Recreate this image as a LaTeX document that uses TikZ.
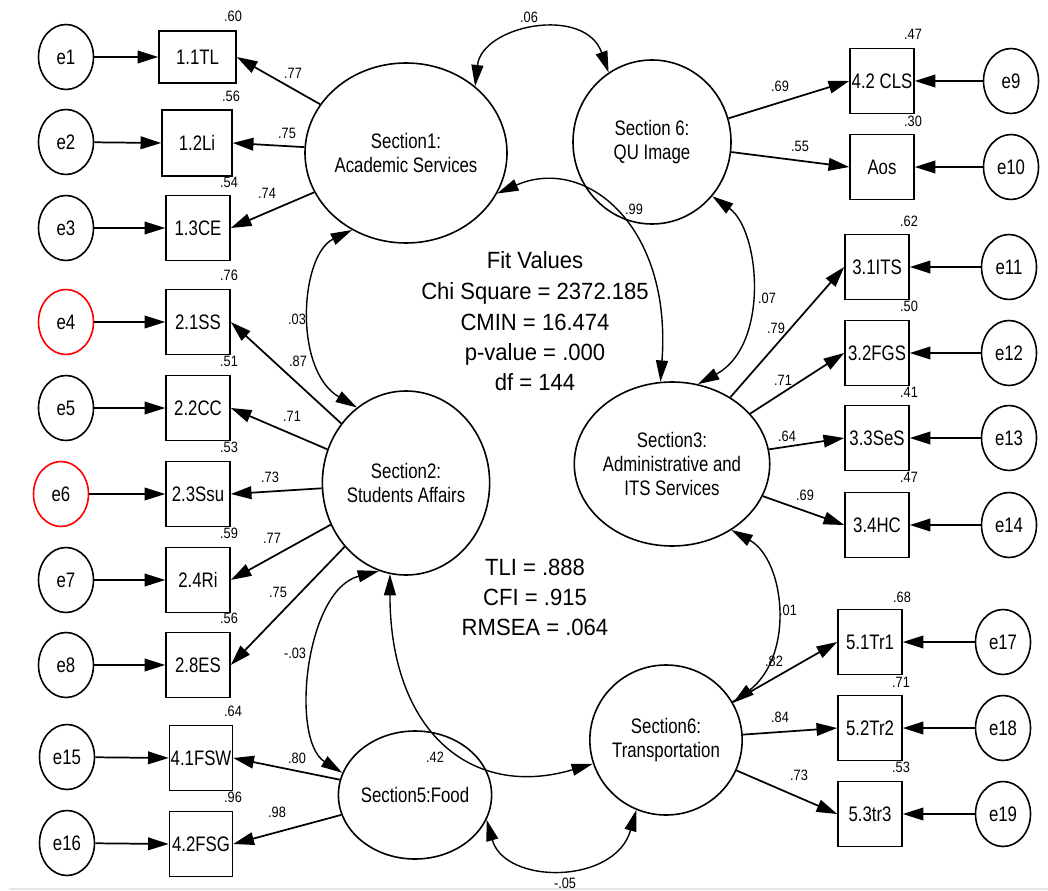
\documentclass[tikz,border=0pt]{standalone}
\usepackage{fontspec}
\setmainfont{Liberation Sans}
\newfontfamily\nodefont[FakeStretch=0.8]{Liberation Sans}
\newfontfamily\smallfont[FakeStretch=0.85]{Liberation Sans}
\newfontfamily\fitfont[FakeStretch=0.94]{Liberation Sans}
\usetikzlibrary{shapes.geometric,arrows.meta}
\begin{document}
\begin{tikzpicture}[x=0.75pt,y=-0.75pt,
  nf/.style={font=\nodefont\fontsize{15.75pt}{18pt}\selectfont},
  errc/.style={nf,ellipse,draw,line width=1.2pt,minimum width=41.25pt,minimum height=48.75pt,inner sep=0pt},
  errred/.style={errc,draw=red},
  obs/.style={nf,rectangle,draw,line width=1.2pt,minimum width=48pt,minimum height=48.75pt,inner sep=0pt},
  lat/.style={nf,ellipse,draw,line width=1.2pt,inner sep=0pt,align=center},
  num/.style={font=\smallfont\fontsize{11.25pt}{13pt}\selectfont,inner sep=0pt},
  fitline/.style={font=\fitfont\fontsize{17.6pt}{22pt}\selectfont,inner sep=0pt,anchor=base},
  load/.style={line width=1.3pt,-{Triangle[length=15.5pt,width=9.5pt]}},
  cov/.style={line width=1.05pt,{Triangle[length=16pt,width=9pt]}-{Triangle[length=16pt,width=9pt]}}
]
\useasboundingbox (0,0) rectangle (1048,891);
\draw[gray!20,line width=1pt] (9,889) -- (1048,889);

% latent variables
\node[lat,minimum width=127.5pt,minimum height=135pt] (s1) at (406,153) {Section1:\\Academic Services};
\node[lat,minimum width=115.5pt,minimum height=138pt] (s2) at (406,483) {Section2:\\Students Affairs};
\node[lat,minimum width=114pt,minimum height=96pt] (s5) at (415,795) {Section5:Food};
\node[lat,minimum width=111pt,minimum height=112.5pt] (st) at (666,740) {Section6:\\Transportation};
\node[lat,minimum width=118.5pt,minimum height=123pt] (s6) at (652,142) {Section 6:\\QU Image};
\node[lat,minimum width=118.5pt,minimum height=123pt] (s3) at (672,464) {Section3:\\Administrative and\\ITS Services};

% observed variables, left
\node[obs,minimum width=57.75pt,minimum height=39pt] (b11) at (197.5,57) {1.1TL};
\node[obs,minimum width=52.5pt,minimum height=49.5pt] (b12) at (197,143) {1.2Li};
\node[obs] (b13) at (198,228) {1.3CE};
\node[obs] (b21) at (198,322) {2.1SS};
\node[obs] (b22) at (198,408) {2.2CC};
\node[obs] (b23) at (198,494) {2.3Ssu};
\node[obs] (b24) at (198,580) {2.4Ri};
\node[obs] (b28) at (198,665) {2.8ES};
\node[obs,minimum width=47.25pt] (b41) at (201,758) {4.1FSW};
\node[obs,minimum width=47.25pt] (b42) at (201,844) {4.2FSG};
% observed variables, right
\node[obs] (cls) at (882,81) {4.2 CLS};
\node[obs] (aos) at (882,167) {Aos};
\node[obs] (b31) at (877,267) {3.1ITS};
\node[obs] (b32) at (877,353) {3.2FGS};
\node[obs] (b33) at (877,438) {3.3SeS};
\node[obs] (b34) at (877,525) {3.4HC};
\node[obs] (t1) at (870,642) {5.1Tr1};
\node[obs] (t2) at (870,728) {5.2Tr2};
\node[obs] (t3) at (870,814) {5.3tr3};

% error terms
\node[errc] (e1) at (66,57) {e1};
\node[errc] (e2) at (66,142) {e2};
\node[errc] (e3) at (66,228) {e3};
\node[errred] (e4) at (66,322) {e4};
\node[errc] (e5) at (66,408) {e5};
\node[errred] (e6) at (61,494) {e6};
\node[errc] (e7) at (66,580) {e7};
\node[errc] (e8) at (66,665) {e8};
\node[errc] (e15) at (67,757) {e15};
\node[errc] (e16) at (67,843) {e16};
\node[errc] (e9) at (1011,81) {e9};
\node[errc] (e10) at (1011,167) {e10};
\node[errc] (e11) at (1009,267) {e11};
\node[errc] (e12) at (1009,353) {e12};
\node[errc] (e13) at (1009,438) {e13};
\node[errc] (e14) at (1009,525) {e14};
\node[errc] (e17) at (1003,642) {e17};
\node[errc] (e18) at (1003,728) {e18};
\node[errc] (e19) at (1003,814) {e19};

% error arrows
\draw[load] (e1) -- (b11.west);
\draw[load] (e2) -- (b12.west);
\draw[load] (e3) -- (b13.west);
\draw[load] (e4) -- (b21.west);
\draw[load] (e5) -- (b22.west);
\draw[load] (e6) -- (b23.west);
\draw[load] (e7) -- (b24.west);
\draw[load] (e8) -- (b28.west);
\draw[load] (e15) -- (b41.west);
\draw[load] (e16) -- (b42.west);
\draw[load] (e9) -- (cls.east);
\draw[load] (e10) -- (aos.east);
\draw[load] (e11) -- (b31.east);
\draw[load] (e12) -- (b32.east);
\draw[load] (e13) -- (b33.east);
\draw[load] (e14) -- (b34.east);
\draw[load] (e17) -- (t1.east);
\draw[load] (e18) -- (t2.east);
\draw[load] (e19) -- (t3.east);

% loadings
\draw[load] (s1) -- (b11.east);
\draw[load] (s1) -- (b12.east);
\draw[load] (s1) -- (b13.east);
\draw[load] (s2) -- (b21.east);
\draw[load] (s2) -- (b22.east);
\draw[load] (s2) -- (b23.east);
\draw[load] (s2) -- (b24.east);
\draw[load] (s2) -- (b28.east);
\draw[load] (s5) -- (b41.east);
\draw[load] (s5) -- (b42.east);
\draw[load] (s6) -- (cls.west);
\draw[load] (s6) -- (aos.west);
\draw[load] (s3) -- (b31.west);
\draw[load] (s3) -- (b32.west);
\draw[load] (s3) -- (b33.west);
\draw[load] (s3) -- (b34.west);
\draw[load] (st) -- (t1.west);
\draw[load] (st) -- (t2.west);
\draw[load] (st) -- (t3.west);

% covariances
\draw[cov] (s1.44) .. controls (482,25) and (585,5) .. (s6.122);
\draw[cov] (s1.-24) .. controls (585,155) and (672,225) .. (s3.98);
\draw[cov] (s6.-42) .. controls (760,230) and (770,345) .. (s3.72);
\draw[cov] (s1.-125) .. controls (300,255) and (293,370) .. (s2.123);
\draw[cov] (s2.-107) .. controls (305,590) and (290,740) .. (s5.163);
\draw[cov] (s2.-100) .. controls (390,730) and (470,800) .. (st.198);
\draw[cov] (s5.-19) .. controls (505,885) and (615,885) .. (st.-113);
\draw[cov] (s3.-48) .. controls (785,560) and (795,655) .. (st.29);

% squared multiple correlations
\node[num] (r1) at (233,16) {.60};
\node[num] (r2) at (231,96) {.56};
\node[num] (r3) at (229,182) {.54};
\node[num] (r4) at (229,275) {.76};
\node[num] (r5) at (229,361) {.51};
\node[num] (r6) at (229,447) {.53};
\node[num] (r7) at (229,533) {.59};
\node[num] (r8) at (229,618) {.56};
\node[num] (r15) at (233,711) {.64};
\node[num] (r16) at (233,797) {.96};
\node[num] (r9) at (913,34) {.47};
\node[num] (r10) at (913,121) {.30};
\node[num] (r11) at (909,221) {.62};
\node[num] (r12) at (909,306) {.50};
\node[num] (r13) at (909,392) {.41};
\node[num] (r14) at (909,477) {.47};
\node[num] (r17) at (902,597) {.68};
\node[num] (r18) at (901,682) {.71};
\node[num] (r19) at (901,767) {.53};

% loading values
\node[num] (l1) at (293,73) {.77};
\node[num] (l2) at (287,133) {.75};
\node[num] (l3) at (267,193) {.74};
\node[num] (l4) at (298,361) {.87};
\node[num] (l5) at (292,416) {.71};
\node[num] (l6) at (270,477) {.73};
\node[num] (l7) at (272,538) {.77};
\node[num] (l8) at (278,592) {.75};
\node[num] (l15) at (297,758) {.80};
\node[num] (l16) at (277,812) {.98};
\node[num] (l9) at (780,86) {.69};
\node[num] (l10) at (800,146) {.55};
\node[num] (l11) at (776,328) {.79};
\node[num] (l12) at (783,380) {.71};
\node[num] (l13) at (787,436) {.64};
\node[num] (l14) at (805,495) {.69};
\node[num] (l17) at (774,661) {.82};
\node[num] (l18) at (780,717) {.84};
\node[num] (l19) at (799,775) {.73};

% covariance values
\node[num] (c1) at (529,17) {.06};
\node[num] (c2) at (634,209) {.99};
\node[num] (c3) at (767,298) {.07};
\node[num] (c4) at (297,319) {.03};
\node[num] (c5) at (295,653) {-.03};
\node[num] (c6) at (435,757) {.42};
\node[num] (c7) at (565,883) {-.05};
\node[num] (c8) at (788,610) {.01};

% fit values
\node[fitline] (f1) at (535,268) {Fit Values};
\node[fitline] (f2) at (535,299) {Chi Square = 2372.185};
\node[fitline] (f3) at (535,330) {CMIN = 16.474};
\node[fitline] (f4) at (535,360) {p-value = .000};
\node[fitline] (f5) at (535,390) {df = 144};
\node[fitline] (f6) at (535,575) {TLI = .888};
\node[fitline] (f7) at (535,605) {CFI = .915};
\node[fitline] (f8) at (535,635) {RMSEA = .064};
\end{tikzpicture}
\end{document}
